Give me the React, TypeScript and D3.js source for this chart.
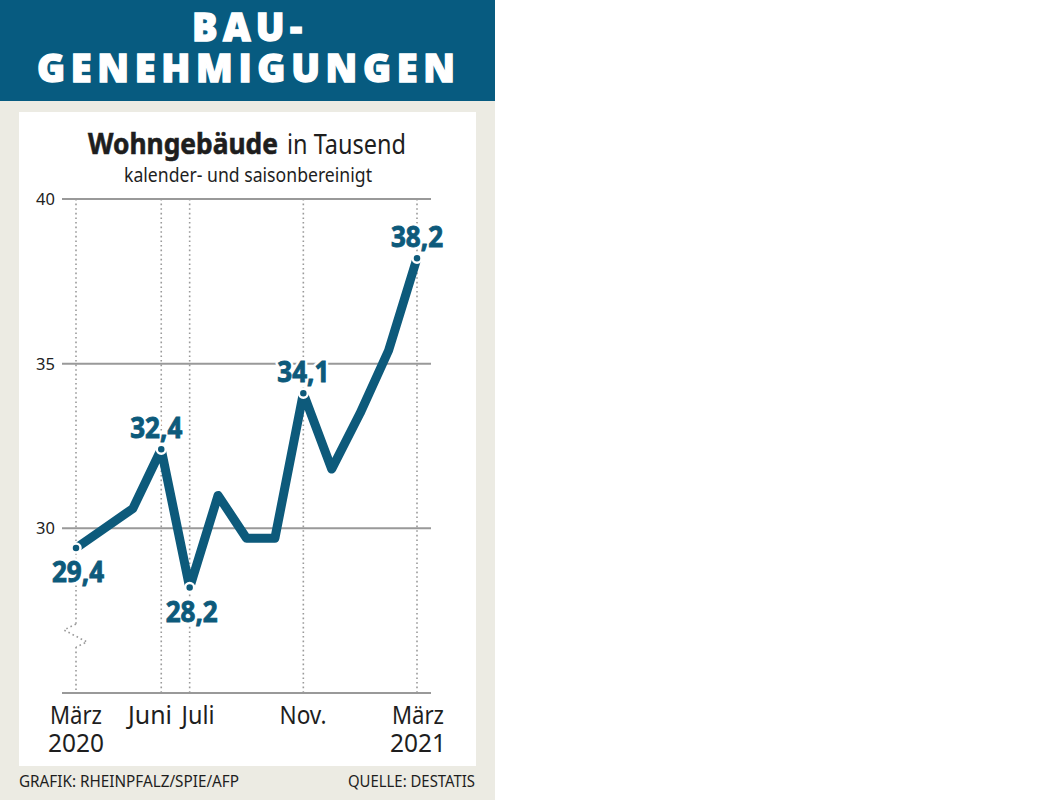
import React from "react";
import * as d3 from "d3";

const months = ["Mär 2020", "Apr", "Mai", "Jun", "Jul", "Aug", "Sep", "Okt", "Nov", "Dez", "Jan", "Feb", "Mär 2021"];
const values = [29.4, 30.0, 30.6, 32.4, 28.2, 31.0, 29.7, 29.7, 34.1, 31.8, 33.5, 35.4, 38.2];
const yTicks = [30, 35, 40];
const xTickIdx = [0, 3, 4, 8, 12];
const xTickLabels = [["März", "2020"], ["Juni"], ["Juli"], ["Nov."], ["März", "2021"]];
const labeled = [
  { i: 0, pos: "below" },
  { i: 3, pos: "above" },
  { i: 4, pos: "below" },
  { i: 8, pos: "above" },
  { i: 12, pos: "above" },
];

const BLUE = "#0d5a7b";
const HEAD = "#075b80";
const BEIGE = "#ecebe3";
const FONT = "'Noto Sans', 'Open Sans', sans-serif";

export default function App() {
  const x = d3.scaleLinear().domain([0, months.length - 1]).range([76, 417]);
  const y = d3.scaleLinear().domain([25, 40]).range([693, 199]);
  const line = d3
    .line<number>()
    .x((_, i) => x(i))
    .y((d) => y(d));
  const fmt = (v: number) => v.toFixed(1).replace(".", ",");
  const gx0 = 62,
    gx1 = 431;
  const xLabelCenter = [76, 150, 198, 303, 418];
  const dot = { stroke: "#9a9a9a", strokeWidth: 1.6, strokeDasharray: "1.6,3", fill: "none" };

  return (
    <div style={{ position: "absolute", left: 0, top: 0 }}>
      <svg width={1052} height={800} style={{ display: "block" }}>
        <rect x={0} y={0} width={1052} height={800} fill="#ffffff" />
        <rect x={0} y={0} width={495} height={800} fill={BEIGE} />
        <rect x={0} y={0} width={495} height={101} fill={HEAD} />
        <rect x={19} y={112} width={457} height={654} fill="#ffffff" />

        <g fill="#fff" stroke="#fff" strokeWidth={1.3} fontFamily="'Open Sans', sans-serif" fontWeight={800} fontSize={38}>
          <text x={247} y={41} textAnchor="middle" textLength={110} lengthAdjust="spacing">
            BAU-
          </text>
          <text x={246} y={82} textAnchor="middle" textLength={418} lengthAdjust="spacing">
            GENEHMIGUNGEN
          </text>
        </g>

        <text x={88} y={154} fill="#1e1e1e" stroke="#1e1e1e" strokeWidth={0.6} fontFamily={FONT} fontWeight={700} fontSize={29} textLength={190} lengthAdjust="spacingAndGlyphs">
          Wohngebäude
        </text>
        <text x={287} y={154} fill="#1e1e1e" fontFamily={FONT} fontWeight={400} fontSize={28} textLength={119} lengthAdjust="spacingAndGlyphs">
          in Tausend
        </text>
        <text x={124} y={182} fill="#1e1e1e" fontFamily={FONT} fontWeight={400} fontSize={19} textLength={248} lengthAdjust="spacingAndGlyphs">
          kalender- und saisonbereinigt
        </text>

        {xTickIdx.map((idx) =>
          idx === 0 ? (
            <g key={"v" + idx}>
              <line x1={x(idx)} x2={x(idx)} y1={y(40)} y2={624} {...dot} />
              <path d={`M${x(idx)},624 L64,630 L87,642 L${x(idx)},647`} {...dot} />
              <line x1={x(idx)} x2={x(idx)} y1={647} y2={y(25)} {...dot} />
            </g>
          ) : (
            <line key={"v" + idx} x1={x(idx)} x2={x(idx)} y1={y(40)} y2={y(25)} {...dot} />
          )
        )}

        {[25, ...yTicks].map((t) => (
          <line key={"h" + t} x1={gx0} x2={gx1} y1={y(t)} y2={y(t)} stroke="#999" strokeWidth={2} />
        ))}
        {yTicks.map((t) => (
          <text key={"t" + t} x={55} y={y(t) + 6} textAnchor="end" fill="#222" fontFamily={FONT} fontSize={16.5}>
            {t}
          </text>
        ))}

        <path d={line(values) || ""} fill="none" stroke={BLUE} strokeWidth={9} strokeLinejoin="round" strokeLinecap="butt" />

        {labeled.map(({ i }) => (
          <circle key={"c" + i} cx={x(i)} cy={y(values[i])} r={4.5} fill={BLUE} stroke="#fff" strokeWidth={2.5} />
        ))}

        {labeled.map(({ i, pos }) => {
          const dx = i === 3 ? -5 : i === 0 || i === 4 ? 2 : 0;
          const ty = pos === "above" ? y(values[i]) - 11 : y(values[i]) + 34;
          const common = {
            x: x(i) + dx,
            y: ty,
            textAnchor: "middle" as const,
            fontFamily: FONT,
            fontWeight: 700,
            fontSize: 28,
            textLength: 52,
            lengthAdjust: "spacingAndGlyphs",
          };
          return (
            <g key={"l" + i}>
              <text {...common} fill="#fff" stroke="#fff" strokeWidth={6} strokeLinejoin="round">
                {fmt(values[i])}
              </text>
              <text {...common} fill={BLUE} stroke={BLUE} strokeWidth={0.9}>
                {fmt(values[i])}
              </text>
            </g>
          );
        })}

        {xTickLabels.map((lines, k) =>
          lines.map((s, j) => (
            <text
              key={"x" + k + j}
              x={xLabelCenter[k]}
              y={724 + j * 28}
              textAnchor="middle"
              fill="#1e1e1e"
              fontFamily={FONT}
              fontSize={25}
              textLength={s === "März" ? 52 : s === "Juni" ? 44 : s === "Juli" ? 33 : s === "Nov." ? 47 : 56}
              lengthAdjust="spacingAndGlyphs"
            >
              {s}
            </text>
          ))
        )}

        <text x={19} y={787} fill="#1e1e1e" fontFamily={FONT} fontSize={16.5} textLength={220} lengthAdjust="spacingAndGlyphs">
          GRAFIK: RHEINPFALZ/SPIE/AFP
        </text>
        <text x={475} y={787} textAnchor="end" fill="#1e1e1e" fontFamily={FONT} fontSize={16.5} textLength={127} lengthAdjust="spacingAndGlyphs">
          QUELLE: DESTATIS
        </text>
      </svg>
    </div>
  );
}
